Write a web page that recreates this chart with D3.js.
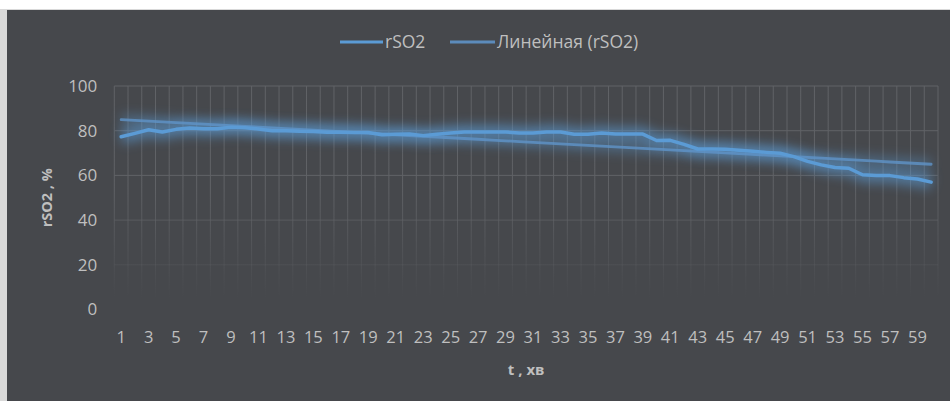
<!DOCTYPE html>
<html>
<head>
<meta charset="utf-8">
<script src="https://cdn.jsdelivr.net/npm/d3@7"></script>
<style>
  body { margin: 0; background: #ffffff; }
  svg { display: block; font-family: "Open Sans", sans-serif; }
</style>
</head>
<body>
<svg id="chart" width="950" height="401"></svg>
<script>
// minutes 1..60
const minutes = d3.range(1, 61);
const rso2 = [
  77.3, 78.8, 80.4, 79.4, 80.6, 81.2, 80.9, 80.9, 81.5, 81.3,
  80.8, 80.0, 80.0, 79.7, 79.6, 79.3, 79.3, 79.2, 79.2, 78.2,
  78.4, 78.5, 77.8, 78.4, 79.0, 79.4, 79.4, 79.4, 79.4, 79.0,
  79.0, 79.4, 79.4, 78.4, 78.4, 79.0, 78.5, 78.5, 78.5, 75.6,
  75.7, 73.9, 71.8, 71.8, 71.7, 71.2, 70.8, 70.3, 69.9, 68.4,
  66.3, 64.7, 63.5, 63.2, 60.3, 60.0, 59.9, 59.0, 58.4, 57.0
];
const yTicks = [0, 20, 40, 60, 80, 100];
const seriesNames = ['rSO2', 'Линейная (rSO2)'];

const svg = d3.select('#chart');
const size = { left: 114.3, right: 938, top: 86, bottom: 309.5 };
const color = '#5b9bd5';

// panel
svg.append('rect').attr('x', 0).attr('y', 9).attr('width', 950).attr('height', 392).attr('fill', '#d9d9d9');
svg.append('rect').attr('x', 7).attr('y', 10).attr('width', 943).attr('height', 391).attr('fill', '#46484c');

const defs = svg.append('defs');
defs.append('filter').attr('id', 'glow')
    .attr('x', '-5%').attr('y', '-100%').attr('width', '110%').attr('height', '300%')
    .append('feGaussianBlur').attr('stdDeviation', 6);

const fade = defs.append('linearGradient').attr('id', 'fade')
    .attr('gradientUnits', 'userSpaceOnUse')
    .attr('x1', 0).attr('x2', 0).attr('y1', size.top).attr('y2', size.bottom);
fade.append('stop').attr('offset', '0%').attr('stop-color', '#606266').attr('stop-opacity', 1);
fade.append('stop').attr('offset', '45%').attr('stop-color', '#606266').attr('stop-opacity', 1);
fade.append('stop').attr('offset', '95%').attr('stop-color', '#606266').attr('stop-opacity', 0);

const xScale = d3.scaleBand().domain(minutes).range([size.left, size.right]);
const yScale = d3.scaleLinear().domain([0, 100]).range([size.bottom, size.top]);
const xc = d => xScale(d) + xScale.bandwidth() / 2;

// gridlines
const grid = svg.append('g').attr('class', 'grid');
grid.selectAll('line.v')
    .data(minutes.concat([61]))
    .enter()
    .append('line')
    .attr('class', 'v')
    .attr('x1', d => d <= 60 ? xScale(d) : size.right)
    .attr('x2', d => d <= 60 ? xScale(d) : size.right)
    .attr('y1', size.top)
    .attr('y2', size.bottom)
    .attr('stroke', 'url(#fade)')
    .attr('stroke-width', 1);
grid.selectAll('line.h')
    .data(yTicks)
    .enter()
    .append('line')
    .attr('class', 'h')
    .attr('x1', size.left)
    .attr('x2', size.right)
    .attr('y1', d => yScale(d))
    .attr('y2', d => yScale(d))
    .attr('stroke', 'url(#fade)')
    .attr('stroke-width', 1);

// axes
const yAxis = svg.append('g')
    .attr('transform', 'translate(' + (size.left - 17) + ',0)')
    .call(d3.axisLeft(yScale).tickValues(yTicks).tickSize(0).tickPadding(0));
yAxis.select('.domain').remove();
yAxis.selectAll('text').attr('fill', '#bfbfbf').attr('font-size', 17).attr('font-family', '"Open Sans", sans-serif');

const xAxis = svg.append('g')
    .attr('transform', 'translate(0,' + (size.bottom + 22) + ')')
    .call(d3.axisBottom(xScale).tickValues(minutes.filter(d => d % 2 === 1)).tickSize(0).tickPadding(0));
xAxis.select('.domain').remove();
xAxis.selectAll('text').attr('fill', '#bfbfbf').attr('font-size', 16.5).attr('font-family', '"Open Sans", sans-serif');

svg.append('text')
    .text('rSO2 , %')
    .attr('transform', 'translate(52,' + ((size.top + size.bottom) / 2) + '),rotate(-90)')
    .attr('text-anchor', 'middle')
    .attr('font-size', 14.5)
    .attr('font-weight', 'bold')
    .attr('fill', '#bfbfbf');
svg.append('text')
    .text('t , хв')
    .attr('x', (size.left + size.right) / 2)
    .attr('y', 375)
    .attr('text-anchor', 'middle')
    .attr('font-size', 15)
    .attr('font-weight', 'bold')
    .attr('fill', '#bfbfbf');

// linear trend (least squares)
const mx = d3.mean(minutes), my = d3.mean(rso2);
const slope = d3.sum(minutes, (d, i) => (d - mx) * (rso2[i] - my)) / d3.sum(minutes, d => (d - mx) * (d - mx));
const intercept = my - slope * mx;
const trend = minutes.map(d => intercept + slope * d);

const line = d3.line().x((d, i) => xc(minutes[i])).y(d => yScale(d));

const plot = svg.append('g').attr('class', 'lines');
plot.append('path').attr('d', line(trend)).attr('fill', 'none')
    .attr('stroke', color).attr('stroke-width', 10).attr('opacity', 0.4).attr('filter', 'url(#glow)');
plot.append('path').attr('d', line(rso2)).attr('fill', 'none')
    .attr('stroke', color).attr('stroke-width', 14).attr('opacity', 0.6).attr('filter', 'url(#glow)');
plot.append('path').attr('d', line(trend)).attr('fill', 'none')
    .attr('stroke', '#5f93c8').attr('stroke-width', 2.8).attr('opacity', 0.8).attr('stroke-linecap', 'round');
plot.append('path').attr('d', line(rso2)).attr('fill', 'none')
    .attr('stroke', color).attr('stroke-width', 3.5).attr('stroke-linejoin', 'round').attr('stroke-linecap', 'round');

// legend
const legendItems = [
    { name: seriesNames[0], x1: 340, x2: 383, stroke: color, op: 1 },
    { name: seriesNames[1], x1: 450, x2: 495, stroke: '#5f93c8', op: 0.9 }
];
const lg = svg.append('g').attr('class', 'legend');
legendItems.forEach(it => {
    lg.append('line').attr('x1', it.x1).attr('x2', it.x2).attr('y1', 42).attr('y2', 42)
        .attr('stroke', it.stroke).attr('stroke-width', 3).attr('opacity', it.op);
    lg.append('text').text(it.name).attr('x', it.x2 + 2).attr('y', 48)
        .attr('font-size', 17.5).attr('fill', '#bfbfbf');
});
</script>
</body>
</html>
